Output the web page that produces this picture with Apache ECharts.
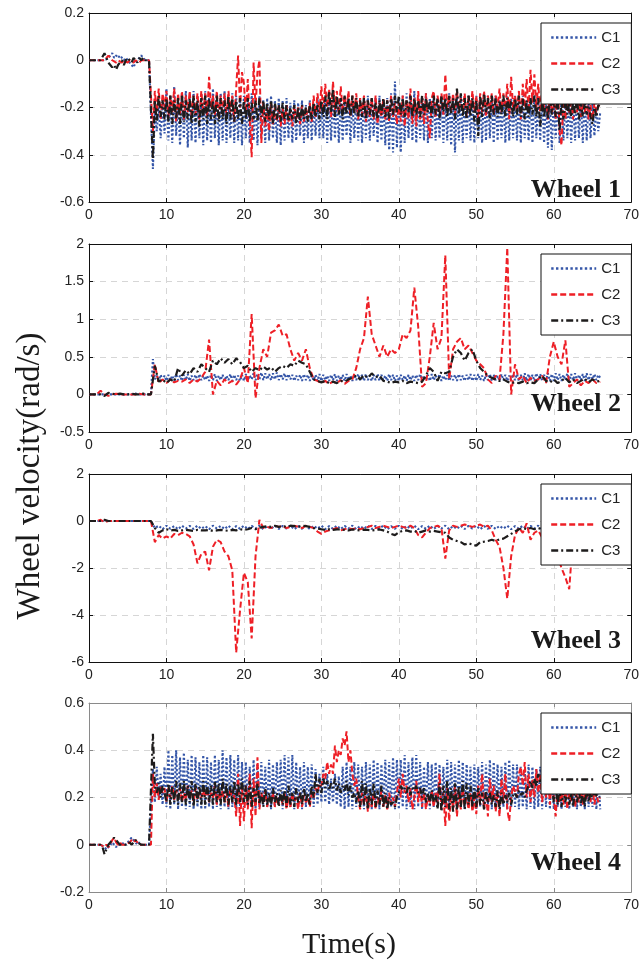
<!DOCTYPE html>
<html lang="en">
<head>
    <meta charset="UTF-8">
    <title>wheel velocity</title>
    <script src="https://cdn.jsdelivr.net/npm/echarts/dist/echarts.min.js"></script>
    <style>
        body { margin: 0; background: #fff; }
    </style>
</head>
<body>
<div id="main" style="width: 642px;height:963px;"></div>

<script>
    const tEnd = 66;
    const names = ['C1', 'C2', 'C3'];
    const panelTitles = ['Wheel 1', 'Wheel 2', 'Wheel 3', 'Wheel 4'];
    const xTicks = {min: 0, max: 70, interval: 10};
    const yTicks = [
        {min: -0.6, max: 0.2, interval: 0.2},
        {min: -0.5, max: 2, interval: 0.5},
        {min: -6, max: 2, interval: 2},
        {min: -0.2, max: 0.6, interval: 0.2}
    ];

    // Wheel 1 (0.25 s)
    const w1c1 = [
        0,0,0,0,0,0,0,0,0,0,0.01,0.02,0.03,0.01,0.02,0.01,0.02,0.01,0,0.01,
        0,-0.01,-0.02,-0.03,-0.01,0,0.01,0.02,0.01,0,0,0,0,-0.46,-0.22,-0.3,-0.2,-0.33,-0.18,-0.31,
        -0.12,-0.34,-0.15,-0.35,-0.11,-0.32,-0.17,-0.36,-0.14,-0.33,-0.13,-0.37,-0.16,-0.34,-0.13,-0.35,-0.15,-0.33,-0.14,-0.36,
        -0.13,-0.34,-0.16,-0.35,-0.12,-0.33,-0.15,-0.36,-0.14,-0.34,-0.13,-0.35,-0.16,-0.33,-0.14,-0.35,-0.15,-0.34,-0.16,-0.36,
        -0.15,-0.33,-0.17,-0.35,-0.14,-0.34,-0.16,-0.36,-0.15,-0.33,-0.17,-0.35,-0.16,-0.34,-0.15,-0.33,-0.17,-0.35,-0.16,-0.36,
        -0.17,-0.34,-0.16,-0.33,-0.18,-0.35,-0.17,-0.34,-0.18,-0.32,-0.17,-0.35,-0.19,-0.33,-0.17,-0.34,-0.18,-0.32,-0.16,-0.33,
        -0.18,-0.33,-0.16,-0.35,-0.17,-0.34,-0.15,-0.33,-0.17,-0.35,-0.16,-0.34,-0.18,-0.32,-0.16,-0.35,-0.17,-0.33,-0.16,-0.34,
        -0.17,-0.35,-0.16,-0.33,-0.15,-0.34,-0.17,-0.32,-0.16,-0.35,-0.15,-0.34,-0.17,-0.36,-0.16,-0.38,-0.14,-0.39,-0.09,-0.37,
        -0.16,-0.39,-0.15,-0.35,-0.14,-0.33,-0.16,-0.34,-0.13,-0.35,-0.15,-0.33,-0.16,-0.34,-0.14,-0.35,-0.16,-0.33,-0.15,-0.34,
        -0.16,-0.33,-0.15,-0.35,-0.16,-0.34,-0.14,-0.36,-0.15,-0.39,-0.16,-0.34,-0.15,-0.35,-0.17,-0.33,-0.15,-0.34,-0.16,-0.35,
        -0.15,-0.33,-0.16,-0.35,-0.14,-0.34,-0.15,-0.33,-0.16,-0.35,-0.15,-0.34,-0.17,-0.33,-0.16,-0.35,-0.15,-0.34,-0.16,-0.33,
        -0.15,-0.34,-0.16,-0.35,-0.15,-0.33,-0.17,-0.34,-0.16,-0.35,-0.15,-0.33,-0.16,-0.34,-0.15,-0.35,-0.17,-0.37,-0.16,-0.38,
        -0.17,-0.33,-0.16,-0.35,-0.15,-0.34,-0.16,-0.33,-0.17,-0.35,-0.16,-0.34,-0.15,-0.33,-0.17,-0.35,-0.16,-0.34,-0.17,-0.33,
        -0.18,-0.32,-0.2,-0.3,-0.22
    ];
    const w1c2 = [
        0,0,0,0,0,0,0,0,0,0.01,0.02,0.01,0,0,-0.01,0,0,-0.01,0,0,
        -0.01,0,0,-0.01,0,0,-0.01,0,0,0,0,0,0,-0.3,-0.13,-0.22,-0.12,-0.25,-0.14,-0.2,
        -0.13,-0.24,-0.15,-0.22,-0.12,-0.26,-0.14,-0.23,-0.13,-0.25,-0.15,-0.22,-0.13,-0.24,-0.15,-0.23,-0.14,-0.25,-0.13,-0.22,
        -0.14,-0.24,-0.07,-0.2,-0.15,-0.23,-0.13,-0.25,-0.15,-0.22,-0.14,-0.24,-0.13,-0.22,-0.15,-0.26,-0.12,0.02,-0.2,-0.05,
        -0.1,-0.22,-0.08,-0.25,-0.41,-0.01,-0.2,-0.05,0,-0.35,-0.18,-0.28,-0.2,-0.3,-0.18,-0.27,-0.2,-0.26,-0.19,-0.28,
        -0.2,-0.27,-0.19,-0.26,-0.21,-0.28,-0.19,-0.25,-0.2,-0.27,-0.19,-0.26,-0.2,-0.25,-0.18,-0.26,-0.15,-0.24,-0.14,-0.22,
        -0.11,-0.22,-0.1,-0.2,-0.12,-0.24,-0.09,-0.21,-0.13,-0.23,-0.11,-0.22,-0.15,-0.2,-0.13,-0.24,-0.15,-0.22,-0.14,-0.25,
        -0.16,-0.23,-0.15,-0.26,-0.17,-0.24,-0.16,-0.25,-0.15,-0.27,-0.18,-0.24,-0.16,-0.25,-0.17,-0.26,-0.15,-0.24,-0.18,-0.27,
        -0.18,-0.26,-0.15,-0.28,-0.17,-0.25,-0.12,-0.27,-0.16,-0.28,-0.13,-0.25,-0.15,-0.27,-0.14,-0.26,-0.33,-0.16,-0.13,-0.24,
        -0.15,-0.22,-0.14,-0.23,-0.06,-0.2,-0.15,-0.22,-0.14,-0.23,-0.13,-0.21,-0.16,-0.22,-0.14,-0.24,-0.15,-0.21,-0.13,-0.22,
        -0.15,-0.25,-0.14,-0.22,-0.13,-0.24,-0.15,-0.21,-0.14,-0.23,-0.15,-0.2,-0.12,-0.22,-0.14,-0.2,-0.1,-0.25,-0.07,-0.2,
        -0.15,-0.22,-0.13,-0.25,-0.1,-0.2,-0.08,-0.22,-0.04,-0.18,-0.06,-0.2,-0.1,-0.22,-0.12,-0.2,-0.15,-0.25,-0.13,-0.22,
        -0.18,-0.25,-0.08,-0.3,-0.36,-0.15,-0.25,-0.17,-0.22,-0.18,-0.25,-0.16,-0.22,-0.17,-0.24,-0.18,-0.22,-0.17,-0.25,-0.19,
        -0.25,-0.18,-0.22,-0.19,-0.2
    ];
    const w1c3 = [
        0,0,0,0,0,0,0,0,0.03,0.01,-0.01,-0.02,-0.03,-0.02,-0.04,-0.02,-0.01,0,-0.02,0,
        0.01,0,-0.01,0.01,0,-0.01,0.01,0,0.01,0,0,0,0,-0.42,-0.17,-0.26,-0.15,-0.24,-0.17,-0.25,
        -0.16,-0.26,-0.15,-0.27,-0.17,-0.25,-0.16,-0.27,-0.15,-0.26,-0.17,-0.25,-0.16,-0.27,-0.15,-0.26,-0.17,-0.28,-0.16,-0.25,
        -0.15,-0.27,-0.16,-0.25,-0.17,-0.27,-0.15,-0.26,-0.16,-0.25,-0.17,-0.27,-0.15,-0.25,-0.16,-0.26,-0.17,-0.25,-0.16,-0.27,
        -0.17,-0.25,-0.16,-0.26,-0.18,-0.25,-0.17,-0.26,-0.16,-0.24,-0.17,-0.26,-0.18,-0.25,-0.17,-0.27,-0.18,-0.25,-0.19,-0.26,
        -0.18,-0.25,-0.19,-0.26,-0.2,-0.25,-0.19,-0.27,-0.2,-0.26,-0.19,-0.25,-0.2,-0.26,-0.19,-0.25,-0.18,-0.24,-0.19,-0.25,
        -0.17,-0.24,-0.15,-0.25,-0.13,-0.22,-0.12,-0.24,-0.15,-0.23,-0.16,-0.25,-0.15,-0.23,-0.16,-0.24,-0.15,-0.23,-0.16,-0.24,
        -0.17,-0.24,-0.16,-0.25,-0.17,-0.23,-0.16,-0.24,-0.18,-0.25,-0.17,-0.23,-0.16,-0.24,-0.17,-0.25,-0.16,-0.23,-0.15,-0.22,
        -0.15,-0.23,-0.16,-0.24,-0.17,-0.22,-0.15,-0.24,-0.16,-0.23,-0.17,-0.24,-0.15,-0.23,-0.16,-0.22,-0.17,-0.24,-0.15,-0.23,
        -0.16,-0.25,-0.15,-0.22,-0.16,-0.24,-0.15,-0.23,-0.16,-0.25,-0.12,-0.23,-0.14,-0.24,-0.16,-0.25,-0.15,-0.24,-0.16,-0.26,
        -0.17,-0.32,-0.15,-0.24,-0.14,-0.22,-0.16,-0.25,-0.15,-0.23,-0.16,-0.24,-0.17,-0.23,-0.15,-0.24,-0.16,-0.22,-0.17,-0.24,
        -0.16,-0.23,-0.15,-0.24,-0.16,-0.25,-0.17,-0.24,-0.16,-0.23,-0.15,-0.24,-0.16,-0.28,-0.17,-0.24,-0.16,-0.25,-0.15,-0.23,
        -0.17,-0.24,-0.16,-0.3,-0.17,-0.25,-0.16,-0.23,-0.18,-0.24,-0.17,-0.23,-0.16,-0.25,-0.17,-0.24,-0.18,-0.23,-0.17,-0.24,
        -0.27,-0.2,-0.24,-0.19,-0.2
    ];

    // Wheel 2 (C1 0.25 s, C2/C3 0.5 s)
    const w2c1 = [
        0,0,0,0,0,0,0,0,0,0,0,-0.01,0,-0.01,0,0,0,0,0,0,
        0,0.01,0,0,0.01,0,0,0,0,0,0,0,0,0.47,0.2,0.25,0.18,0.26,0.19,0.25,
        0.18,0.26,0.19,0.25,0.18,0.27,0.19,0.25,0.18,0.26,0.19,0.27,0.18,0.25,0.19,0.26,0.18,0.27,0.19,0.25,
        0.19,0.25,0.18,0.26,0.19,0.27,0.18,0.25,0.19,0.26,0.18,0.25,0.19,0.27,0.18,0.26,0.19,0.25,0.18,0.26,
        0.18,0.27,0.19,0.25,0.2,0.28,0.19,0.27,0.2,0.29,0.19,0.28,0.2,0.27,0.19,0.28,0.2,0.29,0.19,0.27,
        0.2,0.28,0.19,0.27,0.2,0.26,0.18,0.25,0.19,0.26,0.18,0.27,0.19,0.26,0.18,0.25,0.19,0.26,0.18,0.27,
        0.18,0.26,0.19,0.25,0.18,0.26,0.19,0.27,0.18,0.25,0.19,0.26,0.18,0.27,0.19,0.25,0.18,0.26,0.19,0.27,
        0.19,0.26,0.18,0.27,0.19,0.25,0.18,0.26,0.19,0.27,0.18,0.26,0.19,0.25,0.18,0.27,0.19,0.26,0.18,0.25,
        0.18,0.26,0.19,0.25,0.18,0.26,0.19,0.25,0.18,0.26,0.19,0.27,0.18,0.25,0.19,0.26,0.18,0.27,0.19,0.25,
        0.19,0.27,0.18,0.25,0.19,0.26,0.18,0.25,0.19,0.26,0.18,0.27,0.19,0.25,0.18,0.26,0.19,0.27,0.18,0.26,
        0.18,0.27,0.19,0.25,0.18,0.26,0.19,0.27,0.18,0.26,0.19,0.25,0.18,0.27,0.19,0.26,0.18,0.25,0.19,0.27,
        0.19,0.27,0.18,0.26,0.19,0.28,0.18,0.27,0.19,0.26,0.18,0.28,0.19,0.27,0.18,0.26,0.19,0.28,0.18,0.27,
        0.18,0.28,0.19,0.27,0.18,0.26,0.19,0.28,0.18,0.27,0.19,0.28,0.18,0.26,0.19,0.27,0.18,0.28,0.19,0.27,
        0.2,0.27,0.19,0.26,0.22
    ];
    const w2c2 = [
        0,0,0,0.05,0,-0.02,0,0.01,0,0,
        0,0,0,0.01,0,0,0,0.4,0.15,0.2,
        0.15,0.2,0.16,0.18,0.17,0.2,0.15,0.2,0.17,0.22,
        0.3,0.73,0,0.18,0.12,0.2,0.15,0.18,0.13,0.2,
        0.35,0.15,1.07,-0.05,0.35,0.6,0.5,0.82,0.85,0.93,
        0.78,0.8,0.6,0.45,0.55,0.45,0.6,0.35,0.2,0.18,
        0.15,0.18,0.14,0.17,0.15,0.19,0.14,0.18,0.2,0.35,
        0.6,0.75,1.3,0.8,0.65,0.5,0.65,0.5,0.6,0.55,
        0.6,0.8,0.75,0.85,1.42,0.9,0.1,0.15,0.5,0.95,
        0.6,0.75,1.85,0.2,0.6,0.7,0.75,0.6,0.65,0.55,
        0.45,0.4,0.35,0.2,0.15,0.25,0.2,0.8,1.95,0,
        0.4,0.2,0.25,0.15,0.22,0.18,0.2,0.25,0.15,0.5,
        0.7,0.5,0.4,0.72,0.1,0.15,0.2,0.12,0.18,0.15,
        0.2,0.15,0.17
    ];
    const w2c3 = [
        0,0,0,0,-0.02,0.02,0.01,0,0.01,0,
        0,0.01,0,0,0.01,0,0,0.38,0.17,0.2,
        0.15,0.2,0.17,0.35,0.25,0.32,0.27,0.35,0.3,0.4,
        0.35,0.3,0.45,0.4,0.48,0.42,0.47,0.4,0.48,0.43,
        0.35,0.38,0.3,0.35,0.32,0.37,0.33,0.36,0.3,0.35,
        0.38,0.35,0.4,0.38,0.45,0.42,0.4,0.3,0.2,0.18,
        0.16,0.18,0.15,0.17,0.15,0.18,0.17,0.2,0.22,0.25,
        0.2,0.26,0.22,0.28,0.23,0.25,0.18,0.17,0.15,0.17,
        0.16,0.18,0.15,0.17,0.16,0.15,0.17,0.25,0.35,0.3,
        0.18,0.3,0.28,0.3,0.5,0.6,0.55,0.45,0.55,0.6,
        0.45,0.35,0.3,0.25,0.22,0.2,0.18,0.2,0.17,0.15,
        0.16,0.15,0.17,0.15,0.16,0.15,0.2,0.25,0.18,0.16,
        0.2,0.15,0.18,0.22,0.16,0.2,0.15,0.18,0.21,0.16,
        0.2,0.17,0.18
    ];

    // Wheel 3 (0.5 s)
    const w3c1 = [
        0,0,0,0,0,0,0,0,0,0,
        0,0,0,0,0,0,0,-0.3,-0.2,-0.35,
        -0.2,-0.33,-0.22,-0.35,-0.2,-0.32,-0.21,-0.34,-0.2,-0.33,
        -0.22,-0.35,-0.2,-0.32,-0.21,-0.34,-0.2,-0.35,-0.22,-0.33,
        -0.2,-0.34,-0.21,-0.32,-0.2,-0.35,-0.22,-0.33,-0.2,-0.34,
        -0.21,-0.32,-0.2,-0.35,-0.22,-0.33,-0.2,-0.34,-0.21,-0.32,
        -0.2,-0.35,-0.22,-0.33,-0.2,-0.34,-0.21,-0.32,-0.2,-0.35,
        -0.22,-0.33,-0.2,-0.34,-0.21,-0.32,-0.2,-0.35,-0.22,-0.33,
        -0.2,-0.34,-0.21,-0.32,-0.2,-0.35,-0.22,-0.33,-0.2,-0.34,
        -0.21,-0.32,-0.2,-0.35,-0.22,-0.33,-0.2,-0.34,-0.21,-0.32,
        -0.2,-0.35,-0.22,-0.33,-0.2,-0.34,-0.21,-0.32,-0.2,-0.35,
        -0.22,-0.33,-0.2,-0.34,-0.21,-0.32,-0.2,-0.35,-0.22,-0.33,
        -0.2,-0.34,-0.21,-0.32,-0.2,-0.35,-0.22,-0.33,-0.2,-0.34,
        -0.21,-0.32,-0.25
    ];
    const w3c2 = [
        0,0,0,0.05,-0.05,0,0,0,0,0,
        0,0,0,0,0,0,0,-0.9,-0.6,-0.75,
        -0.65,-0.75,-0.55,-0.6,-0.5,-0.55,-0.65,-1,-1.8,-1.4,
        -1.3,-2.1,-1.1,-0.8,-0.9,-1.3,-1.5,-2.1,-5.6,-3.8,
        -2.2,-2.6,-5,-1.5,0.05,-0.3,-0.25,-0.3,-0.2,-0.25,
        -0.2,-0.3,-0.25,-0.2,-0.25,-0.3,-0.2,-0.25,-0.3,-0.45,
        -0.55,-0.45,-0.4,-0.35,-0.3,-0.4,-0.35,-0.3,-0.35,-0.3,
        -0.35,-0.3,-0.25,-0.2,-0.3,-0.25,-0.2,-0.25,-0.3,-0.25,
        -0.2,-0.25,-0.3,-0.2,-0.3,-0.6,-0.7,-0.5,-0.3,-0.25,
        -0.2,-0.3,-1.6,-0.4,-0.2,-0.25,-0.2,-0.15,-0.2,-0.25,
        -0.2,-0.15,-0.25,-0.2,-0.4,-0.8,-1.1,-2,-3.3,-1.5,
        -0.6,-0.3,-0.5,-0.1,-0.8,-0.5,-0.4,-0.7,-0.5,-0.3,
        -0.5,-1.5,-2,-2.4,-2.9,-0.6,-0.4,-0.3,-0.35,-0.3,
        -0.3,-0.35,-0.3
    ];
    const w3c3 = [
        0,0,0,0,0.05,0,0,0,0,0,
        0,0,0,0,0,0,0,-0.3,-0.5,-0.4,
        -0.35,-0.4,-0.38,-0.42,-0.4,-0.38,-0.4,-0.42,-0.38,-0.4,
        -0.4,-0.38,-0.42,-0.4,-0.38,-0.4,-0.42,-0.38,-0.4,-0.35,
        -0.38,-0.35,-0.3,-0.35,-0.28,-0.25,-0.22,-0.25,-0.2,-0.25,
        -0.22,-0.25,-0.2,-0.22,-0.25,-0.2,-0.22,-0.25,-0.3,-0.32,
        -0.35,-0.38,-0.35,-0.38,-0.36,-0.35,-0.38,-0.4,-0.36,-0.38,
        -0.4,-0.37,-0.38,-0.4,-0.38,-0.36,-0.4,-0.45,-0.55,-0.6,
        -0.48,-0.42,-0.4,-0.45,-0.42,-0.5,-0.45,-0.4,-0.45,-0.42,
        -0.45,-0.48,-0.5,-0.7,-0.8,-0.85,-0.9,-1,-0.95,-1,
        -1.05,-0.9,-0.88,-0.85,-0.8,-0.85,-0.78,-0.75,-0.65,-0.55,
        -0.45,-0.35,-0.3,-0.35,-0.3,-0.35,-0.3,-0.35,-0.3,-0.32,
        -0.3,-0.35,-0.3,-0.32,-0.3,-0.35,-0.3,-0.32,-0.3,-0.3,
        -0.32,-0.3,-0.3
    ];

    // Wheel 4 (0.25 s)
    const w4c1 = [
        0,0,0,0,0,0,0,0,-0.01,-0.02,-0.01,0,0.01,0,-0.01,0,0,0,0.01,0,
        0.01,0.02,0.03,0.02,0.01,0,0.01,0,0,0,0,0,0,0.32,0.18,0.33,0.2,0.3,0.17,0.33,
        0.16,0.4,0.15,0.38,0.17,0.4,0.15,0.37,0.16,0.39,0.15,0.36,0.16,0.38,0.15,0.37,0.16,0.35,0.15,0.38,
        0.15,0.37,0.16,0.35,0.15,0.38,0.16,0.36,0.15,0.4,0.16,0.37,0.15,0.38,0.16,0.36,0.15,0.38,0.16,0.35,
        0.16,0.35,0.17,0.33,0.16,0.36,0.15,0.34,0.16,0.35,0.17,0.33,0.16,0.36,0.15,0.34,0.16,0.35,0.17,0.36,
        0.15,0.38,0.17,0.37,0.16,0.38,0.15,0.35,0.16,0.33,0.15,0.35,0.16,0.33,0.17,0.34,0.16,0.32,0.17,0.3,
        0.18,0.33,0.18,0.3,0.17,0.28,0.18,0.3,0.17,0.29,0.16,0.33,0.15,0.35,0.16,0.33,0.15,0.35,0.16,0.34,
        0.16,0.33,0.15,0.35,0.16,0.34,0.15,0.36,0.16,0.35,0.15,0.34,0.16,0.36,0.15,0.35,0.16,0.37,0.15,0.36,
        0.15,0.36,0.16,0.38,0.15,0.35,0.16,0.37,0.15,0.38,0.16,0.35,0.15,0.33,0.16,0.35,0.15,0.34,0.16,0.35,
        0.16,0.34,0.15,0.33,0.16,0.36,0.15,0.35,0.16,0.34,0.15,0.36,0.16,0.35,0.15,0.34,0.16,0.33,0.15,0.34,
        0.15,0.33,0.16,0.35,0.15,0.34,0.16,0.36,0.15,0.35,0.16,0.34,0.15,0.33,0.16,0.35,0.15,0.36,0.16,0.34,
        0.16,0.34,0.15,0.33,0.16,0.32,0.15,0.34,0.16,0.33,0.15,0.32,0.16,0.33,0.15,0.34,0.16,0.33,0.15,0.32,
        0.15,0.32,0.16,0.3,0.15,0.31,0.16,0.3,0.15,0.3,0.16,0.31,0.15,0.3,0.16,0.29,0.15,0.3,0.16,0.31,
        0.16,0.3,0.15,0.28,0.15
    ];
    const w4c2 = [
        0,0,0,0,0,0,0,0,-0.01,0,-0.01,0,0.02,0.03,0.01,0,0.01,0,0,0,
        0,0.01,0.02,0.01,0.02,0.01,0,0,0,0,0,0,0,0.3,0.2,0.26,0.19,0.25,0.22,0.24,
        0.18,0.24,0.2,0.25,0.19,0.23,0.2,0.24,0.18,0.22,0.19,0.25,0.2,0.23,0.18,0.24,0.19,0.22,0.2,0.23,
        0.2,0.24,0.18,0.22,0.2,0.25,0.17,0.22,0.19,0.23,0.18,0.22,0.16,0.24,0.18,0.21,0.12,0.3,0.08,0.25,
        0.1,0.25,0.15,0.3,0.07,0.28,0.12,0.37,0.15,0.22,0.18,0.23,0.16,0.2,0.18,0.22,0.16,0.2,0.17,0.21,
        0.17,0.22,0.15,0.2,0.16,0.22,0.18,0.2,0.15,0.22,0.16,0.21,0.18,0.2,0.16,0.22,0.2,0.24,0.22,0.26,
        0.25,0.3,0.28,0.35,0.3,0.34,0.3,0.42,0.35,0.4,0.38,0.45,0.42,0.48,0.35,0.4,0.3,0.25,0.28,0.2,
        0.15,0.22,0.17,0.23,0.14,0.2,0.16,0.22,0.15,0.2,0.17,0.23,0.16,0.21,0.15,0.22,0.17,0.2,0.16,0.22,
        0.28,0.2,0.3,0.22,0.25,0.18,0.24,0.15,0.2,0.27,0.18,0.24,0.16,0.22,0.15,0.2,0.18,0.23,0.16,0.22,
        0.18,0.3,0.15,0.22,0.08,0.24,0.1,0.22,0.15,0.25,0.12,0.22,0.15,0.24,0.17,0.2,0.15,0.22,0.14,0.2,
        0.13,0.25,0.17,0.3,0.15,0.22,0.12,0.28,0.18,0.25,0.14,0.22,0.12,0.28,0.18,0.3,0.15,0.1,0.2,0.25,
        0.25,0.2,0.3,0.33,0.25,0.35,0.2,0.3,0.18,0.28,0.2,0.32,0.22,0.3,0.18,0.25,0.2,0.3,0.17,0.28,
        0.2,0.12,0.25,0.18,0.22,0.17,0.25,0.15,0.22,0.18,0.25,0.16,0.22,0.18,0.25,0.17,0.22,0.19,0.25,0.18,
        0.25,0.17,0.22,0.18,0.2
    ];
    const w4c3 = [
        0,0,0,0,0,0,0,-0.01,-0.04,-0.02,0,0.01,0.02,0.03,0.02,0.01,0,0,0,0,
        0,0.01,0,0.01,0.02,0.01,0.01,0,0,0,0,0,0,0.47,0.25,0.22,0.26,0.2,0.25,0.22,
        0.18,0.26,0.17,0.25,0.18,0.27,0.17,0.26,0.18,0.27,0.17,0.25,0.18,0.27,0.16,0.26,0.18,0.25,0.17,0.27,
        0.17,0.26,0.18,0.25,0.17,0.27,0.18,0.26,0.17,0.28,0.18,0.26,0.17,0.25,0.18,0.27,0.17,0.26,0.18,0.28,
        0.18,0.25,0.17,0.27,0.16,0.24,0.18,0.26,0.17,0.22,0.16,0.24,0.17,0.22,0.16,0.24,0.18,0.22,0.16,0.23,
        0.17,0.23,0.16,0.25,0.17,0.22,0.16,0.24,0.18,0.22,0.17,0.24,0.18,0.22,0.17,0.25,0.2,0.3,0.22,0.28,
        0.22,0.28,0.24,0.27,0.23,0.26,0.24,0.28,0.23,0.26,0.22,0.25,0.23,0.27,0.21,0.25,0.2,0.22,0.18,0.23,
        0.16,0.27,0.17,0.26,0.15,0.24,0.17,0.26,0.16,0.23,0.17,0.25,0.16,0.22,0.15,0.2,0.17,0.18,0.16,0.2,
        0.22,0.25,0.23,0.24,0.22,0.25,0.21,0.24,0.23,0.25,0.22,0.24,0.2,0.24,0.18,0.22,0.17,0.23,0.18,0.21,
        0.15,0.26,0.14,0.25,0.16,0.27,0.15,0.24,0.14,0.26,0.15,0.25,0.16,0.27,0.15,0.26,0.17,0.25,0.16,0.24,
        0.16,0.24,0.17,0.22,0.15,0.23,0.18,0.22,0.17,0.21,0.16,0.23,0.15,0.22,0.17,0.21,0.18,0.22,0.17,0.21,
        0.22,0.2,0.23,0.21,0.22,0.2,0.23,0.25,0.27,0.24,0.28,0.25,0.3,0.26,0.28,0.25,0.27,0.24,0.3,0.26,
        0.18,0.25,0.17,0.24,0.16,0.23,0.18,0.24,0.17,0.22,0.16,0.24,0.18,0.23,0.17,0.22,0.16,0.24,0.18,0.22,
        0.2,0.22,0.21,0.2,0.2
    ];

    const panels = [[w1c1, w1c2, w1c3], [w2c1, w2c2, w2c3], [w3c1, w3c2, w3c3], [w4c1, w4c2, w4c3]];

    const colors = ['#3556a8', '#ee1f26', '#1e1c1c'];
    const dashes = ['dotted', [6, 3], [7, 3, 2, 3]];
    const widths = [2.1, 2, 2.2];
    const tops = [13, 244, 474, 703];
    const heights = [189, 188, 188, 189];
    const titleBase = [199, 413, 650, 872];
    const labelFont = {fontFamily: 'Liberation Sans', fontSize: 14, color: '#222'};

    const grid = [], xAxis = [], yAxis = [], series = [], legend = [], graphic = [];
    panels.forEach(function (sets, k) {
        const edge = k === 3 ? '#8a8a8a' : '#111';
        grid.push({left: 89, right: 9, top: tops[k], height: heights[k]});
        // box drawn by four axis lines so it stays above the dashed grid lines
        const line = {show: true, onZero: false, lineStyle: {color: edge, width: 1}};
        const tick = {show: true, inside: true, length: 4, lineStyle: {color: edge}};
        const split = {show: true, lineStyle: {color: '#d6d6d6', type: [6, 5], width: 1}};
        xAxis.push({gridIndex: k, type: 'value', min: xTicks.min, max: xTicks.max, interval: xTicks.interval,
            axisLine: line, axisTick: tick, splitLine: split,
            axisLabel: Object.assign({margin: 6}, labelFont)});
        xAxis.push({gridIndex: k, type: 'value', position: 'top', min: xTicks.min, max: xTicks.max,
            interval: xTicks.interval, axisLine: line, axisTick: tick,
            axisLabel: {show: false}, splitLine: {show: false}});
        yAxis.push({gridIndex: k, type: 'value', min: yTicks[k].min, max: yTicks[k].max,
            interval: yTicks[k].interval, axisLine: line, axisTick: tick, splitLine: split,
            axisLabel: Object.assign({margin: 5}, labelFont)});
        yAxis.push({gridIndex: k, type: 'value', position: 'right', min: yTicks[k].min, max: yTicks[k].max,
            interval: yTicks[k].interval, axisLine: line, axisTick: tick,
            axisLabel: {show: false}, splitLine: {show: false}});

        sets.forEach(function (vals, j) {
            const step = tEnd / (vals.length - 1);
            series.push({
                name: names[j], type: 'line', xAxisIndex: 2 * k, yAxisIndex: 2 * k,
                symbol: 'none', animation: false, color: colors[j],
                lineStyle: {color: colors[j], width: widths[j], type: dashes[j]},
                data: vals.map(function (v, i) { return [i * step, v]; })
            });
        });

        legend.push({
            data: names, orient: 'vertical', left: 541, top: tops[k] + 10,
            selectedMode: false, backgroundColor: '#fff', borderColor: '#111', borderWidth: 1,
            padding: [7, 11, 7, 9], itemGap: 11, itemWidth: 45, itemHeight: 14,
            itemStyle: {opacity: 0},
            lineStyle: {width: 2.4},
            textStyle: {fontFamily: 'Liberation Sans', fontSize: 15, color: '#222'}
        });

        graphic.push({
            type: 'text', right: 642 - 621, top: titleBase[k] - 22, z: 10,
            style: {text: panelTitles[k], font: 'bold 26px "Liberation Serif"', fill: '#1a1a1a'}
        });
    });

    graphic.push({
        type: 'text', x: 30, y: 476, rotation: Math.PI / 2, z: 10,
        style: {text: 'Wheel velocity(rad/s)', font: '33px "Liberation Serif"', fill: '#1a1a1a',
            textAlign: 'center', textVerticalAlign: 'middle'}
    });
    graphic.push({
        type: 'text', x: 349, y: 945, z: 10,
        style: {text: 'Time(s)', font: '30px "Liberation Serif"', fill: '#1a1a1a',
            textAlign: 'center', textVerticalAlign: 'middle'}
    });

    const myChart = echarts.init(document.getElementById('main'));
    myChart.setOption({
        animation: false,
        grid: grid,
        xAxis: xAxis,
        yAxis: yAxis,
        legend: legend,
        graphic: graphic,
        series: series
    });
</script>
</body>
</html>
